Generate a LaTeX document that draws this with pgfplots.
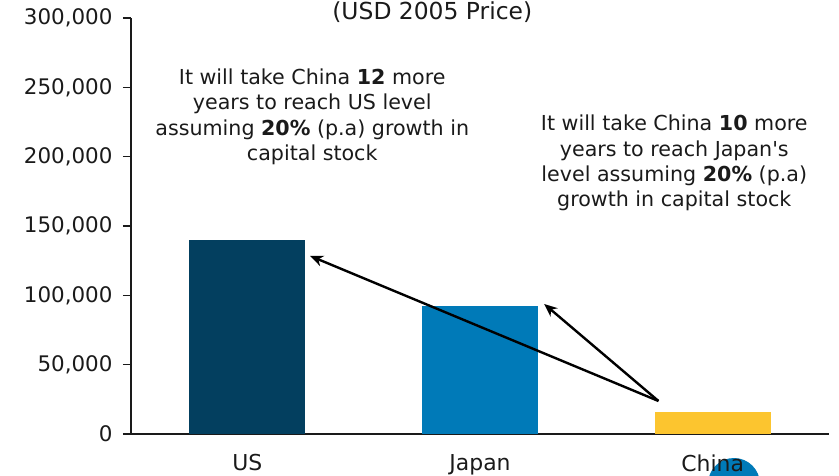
\documentclass[border=0pt]{standalone}
\usepackage{pgfplots}
\pgfplotsset{compat=1.18}
\usepackage{fontspec}
\setmainfont{DejaVu Sans}
\usetikzlibrary{arrows.meta}

\definecolor{usblue}{HTML}{033F5F}
\definecolor{jpblue}{HTML}{007AB8}
\definecolor{cnyellow}{HTML}{FCC52F}
\definecolor{txt}{HTML}{1A1A1A}

\newcommand{\yl}[1]{\mbox{\fontsize{21.5}{25}\selectfont #1}}

\begin{document}
\begin{tikzpicture}
% logo circle behind the China label
\fill[jpblue] (603bp,-50bp) circle (26bp);
\begin{axis}[
    name=ax,
    scale only axis,
    width=698bp, height=416bp,
    xmin=-0.5, xmax=2.5,
    ymin=0, ymax=300000,
    ytick={0,50000,100000,150000,200000,250000,300000},
    yticklabels={\yl{0},\yl{50,000},\yl{100,000},\yl{150,000},\yl{200,000},\yl{250,000},\yl{300,000}},
    scaled y ticks=false,
    xtick={0,1,2},
    xticklabels={US,Japan,China},
    x tick style={draw=none},
    extra x ticks={-0.5,0.5,1.5,2.5},
    extra x tick labels={},
    extra x tick style={tick style={draw=txt, line width=1.6bp}},
    axis x line*=bottom,
    axis y line*=left,
    axis line style={-, line width=1.6bp, draw=txt},
    y tick style={line width=1.6bp, draw=txt},
    tick align=outside,
    major tick length=8bp,
    yticklabel style={text=txt, xshift=-7bp},
    xticklabel style={font=\fontsize{22}{26}\selectfont, text=txt, yshift=-9bp},
    ybar, bar width=116bp,
    clip=false,
]
\addplot[fill=usblue, draw=none, bar shift=0pt] coordinates {(0,140000)};
\addplot[fill=jpblue, draw=none, bar shift=0pt] coordinates {(1,92000)};
\addplot[fill=cnyellow, draw=none, bar shift=0pt] coordinates {(2,16000)};

\node[font=\fontsize{23.5}{28}\selectfont, text=txt] at (axis cs:0.795,304300) {(USD 2005 Price)};

\node[align=center, font=\fontsize{20.7}{25.5}\selectfont, text=txt] at (axis cs:0.279,228600)
  {It will take China \textbf{12} more\\years to reach US level\\assuming \textbf{20\%} (p.a) growth in\\capital stock};
\node[align=center, font=\fontsize{20.7}{25.5}\selectfont, text=txt] at (axis cs:1.835,195400)
  {It will take China \textbf{10} more\\years to reach Japan\textquotesingle s\\level assuming \textbf{20\%} (p.a)\\growth in capital stock};

\draw[-{Stealth[length=13bp,width=11bp]}, line width=2.4bp, black]
  (axis cs:1.767,23800) -- (axis cs:0.270,128400);
\draw[-{Stealth[length=13bp,width=11bp]}, line width=2.4bp, black]
  (axis cs:1.767,23800) -- (axis cs:1.276,93750);
\end{axis}
\pgfresetboundingbox
\path[use as bounding box] (-131bp,-42bp) rectangle (708bp,434bp);
\end{tikzpicture}
\end{document}
